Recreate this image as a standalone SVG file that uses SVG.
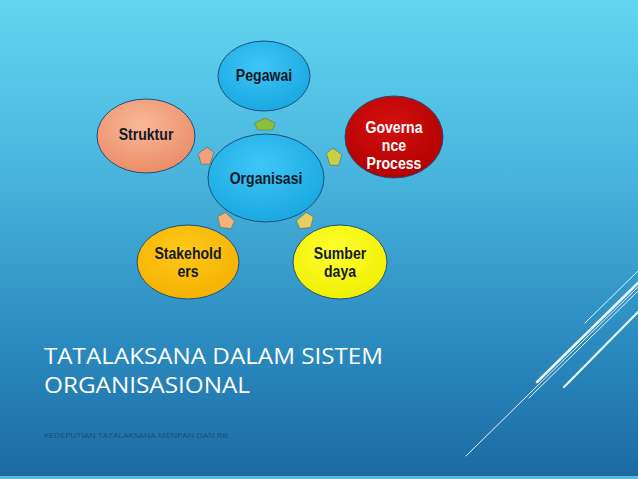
<svg xmlns="http://www.w3.org/2000/svg" width="638" height="479" viewBox="0 0 638 479">
<defs>
<linearGradient id="bg" x1="0" y1="0" x2="0" y2="1">
<stop offset="0" stop-color="#62d5f1"/>
<stop offset="0.35" stop-color="#4ab6de"/>
<stop offset="0.7" stop-color="#2c8cc0"/>
<stop offset="1" stop-color="#1b6aa2"/>
</linearGradient>
<radialGradient id="gBlue" cx="0.45" cy="0.35" r="0.7"><stop offset="0" stop-color="#3ec6f6"/><stop offset="1" stop-color="#18a6e0"/></radialGradient>
<radialGradient id="gSalmon" cx="0.45" cy="0.35" r="0.7"><stop offset="0" stop-color="#f9b89a"/><stop offset="1" stop-color="#ea8a64"/></radialGradient>
<radialGradient id="gRed" cx="0.45" cy="0.35" r="0.7"><stop offset="0" stop-color="#d41010"/><stop offset="1" stop-color="#b00000"/></radialGradient>
<radialGradient id="gOrange" cx="0.45" cy="0.35" r="0.7"><stop offset="0" stop-color="#ffc81a"/><stop offset="1" stop-color="#f4b000"/></radialGradient>
<radialGradient id="gYellow" cx="0.45" cy="0.35" r="0.7"><stop offset="0" stop-color="#ffff30"/><stop offset="1" stop-color="#eeee00"/></radialGradient>
<path id="pent" d="M0,-8 L10,-1 L7,8 L-7,8 L-10,-1 Z"/>
</defs>
<style>
.node{stroke:#1d4f7a;stroke-width:1}
.lbl{font-family:"Liberation Sans",Arial,sans-serif;font-weight:bold;font-size:16px;fill:#141a28;text-anchor:middle}
.wl{fill:#ffffff}
.deco{stroke:#e8f6fb;fill:none;stroke-linecap:round}
.pent{stroke:#5a6a40;stroke-width:0.6}
</style>
<rect x="0" y="0" width="638" height="479" fill="url(#bg)"/>
<rect x="0" y="476" width="638" height="3" fill="#5ab8e0"/>
<g id="decor">
<line class="deco" x1="466" y1="456" x2="638" y2="287" stroke-width="1"/>
<line class="deco" x1="537" y1="382" x2="638" y2="283" stroke-width="2.5"/>
<line class="deco" x1="529" y1="398" x2="638" y2="291" stroke-width="1"/>
<line class="deco" x1="585" y1="323" x2="638" y2="271" stroke-width="1"/>
<line class="deco" x1="564" y1="387" x2="638" y2="312" stroke-width="2.2"/>
</g>
<g id="connectors">
<use href="#pent" class="pent" fill="#8cbf3a" transform="translate(265,124) scale(1.05,0.75)"/>
<use href="#pent" class="pent" fill="#f0a07c" transform="translate(205,156) rotate(-71) scale(0.9)"/>
<use href="#pent" class="pent" fill="#c8d048" transform="translate(335,157) rotate(72) scale(0.9)"/>
<use href="#pent" class="pent" fill="#f3b27a" transform="translate(225,222) rotate(-137) scale(0.9)"/>
<use href="#pent" class="pent" fill="#e6cf62" transform="translate(306,222) rotate(139) scale(0.9)"/>
</g>
<g id="pegawai">
<ellipse class="node" cx="264" cy="76" rx="46" ry="35" fill="url(#gBlue)"/>
<text class="lbl" transform="translate(264,81) scale(0.88,1)">Pegawai</text>
</g>
<g id="struktur">
<ellipse class="node" cx="146" cy="136" rx="49" ry="37" fill="url(#gSalmon)"/>
<text class="lbl" transform="translate(146,140) scale(0.88,1)">Struktur</text>
</g>
<g id="governance">
<ellipse class="node" cx="394" cy="137" rx="49" ry="41" fill="url(#gRed)"/>
<text class="lbl wl" transform="translate(394,133) scale(0.88,1)">Governa</text>
<text class="lbl wl" transform="translate(394,151) scale(0.88,1)">nce</text>
<text class="lbl wl" transform="translate(394,169) scale(0.88,1)">Process</text>
</g>
<g id="organisasi">
<ellipse class="node" cx="266" cy="178" rx="58" ry="44" fill="url(#gBlue)"/>
<text class="lbl" transform="translate(266,184) scale(0.88,1)">Organisasi</text>
</g>
<g id="stakeholders">
<ellipse class="node" cx="188" cy="262" rx="51" ry="37" fill="url(#gOrange)"/>
<text class="lbl" transform="translate(188,259) scale(0.88,1)">Stakehold</text>
<text class="lbl" transform="translate(188,277) scale(0.88,1)">ers</text>
</g>
<g id="sumberdaya">
<ellipse class="node" cx="340" cy="262" rx="47" ry="37" fill="url(#gYellow)"/>
<text class="lbl" transform="translate(340,259) scale(0.88,1)">Sumber</text>
<text class="lbl" transform="translate(340,277) scale(0.88,1)">daya</text>
</g>
<g id="title" font-family="'Open Sans','Liberation Sans',sans-serif" fill="#ffffff">
<text x="44" y="364" font-size="22" textLength="339" lengthAdjust="spacingAndGlyphs">TATALAKSANA DALAM SISTEM</text>
<text x="44" y="393" font-size="22" textLength="206" lengthAdjust="spacingAndGlyphs">ORGANISASIONAL</text>
<text x="44" y="438" font-size="7" fill="#1e4a78" textLength="184" lengthAdjust="spacingAndGlyphs">KEDEPUTIAN TATALAKSANA MENPAN DAN RB</text>
</g>
</svg>
